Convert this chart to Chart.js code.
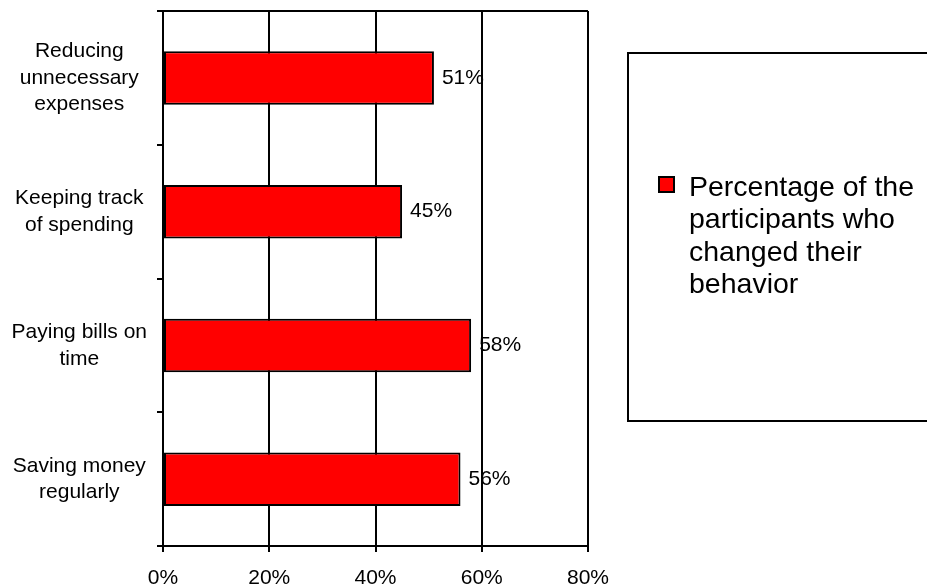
<!DOCTYPE html>
<html>
<head>
<meta charset="utf-8">
<title>Mudança de comportamento</title>
<script src="https://cdn.jsdelivr.net/npm/chart.js@4/dist/chart.umd.min.js"></script>
<style>
    body { margin: 0; background: #fff; }
    #grafico { display: block; }
</style>
</head>
<body>
<canvas id="grafico" width="927" height="586"></canvas>
<script>
// Dados do gráfico
var categorias = [
    ['Reducing', 'unnecessary', 'expenses'],
    ['Keeping track', 'of spending'],
    ['Paying bills on', 'time'],
    ['Saving money', 'regularly']
];
var valores = [51, 45, 58, 56];
var marcasEixo = [0, 20, 40, 60, 80];
var legendaLinhas = ['Percentage of the', 'participants who', 'changed their', 'behavior'];

var fonte = '"Liberation Sans", Arial, sans-serif';

// Plugin para escrever o valor ao lado de cada barra
var rotulosValores = {
    id: 'rotulosValores',
    afterDatasetsDraw: function (chart) {
        var ctx = chart.ctx;
        var meta = chart.getDatasetMeta(0);
        ctx.save();
        ctx.font = '21px ' + fonte;
        ctx.fillStyle = '#000';
        ctx.textAlign = 'left';
        ctx.textBaseline = 'middle';
        meta.data.forEach(function (barra, i) {
            ctx.fillText(valores[i] + '%', barra.x + 8, barra.y);
        });
        ctx.restore();
    }
};

// Plugin para a caixa de legenda à direita (texto em várias linhas)
var caixaLegenda = {
    id: 'caixaLegenda',
    afterDraw: function (chart) {
        var ctx = chart.ctx;
        var ds = chart.data.datasets[0];
        ctx.save();
        ctx.lineWidth = 2;
        ctx.strokeStyle = '#000';
        ctx.strokeRect(628, 53, 320, 368);

        ctx.fillStyle = ds.backgroundColor;
        ctx.fillRect(659, 177, 15, 15);
        ctx.lineWidth = 2;
        ctx.strokeRect(659, 177, 15, 15);

        ctx.fillStyle = '#000';
        ctx.font = '28.5px ' + fonte;
        ctx.textAlign = 'left';
        ctx.textBaseline = 'alphabetic';
        legendaLinhas.forEach(function (linha, i) {
            ctx.fillText(linha, 689, 196 + i * 32.3);
        });
        ctx.restore();
    }
};

var ctx = document.getElementById('grafico').getContext('2d');

window.meuGrafico = new Chart(ctx, {
    type: 'bar',
    data: {
        labels: categorias,
        datasets: [{
            label: legendaLinhas.join(' '),
            data: valores,
            backgroundColor: '#ff0000',
            borderColor: '#000',
            borderWidth: 2,
            borderSkipped: false,
            barPercentage: 0.4,
            categoryPercentage: 1
        }]
    },
    options: {
        indexAxis: 'y',
        responsive: false,
        animation: false,
        layout: {
            padding: { top: 11, right: 339, left: 0, bottom: 0 }
        },
        plugins: {
            legend: { display: false },
            tooltip: { enabled: false }
        },
        scales: {
            x: {
                min: 0,
                max: 80,
                afterBuildTicks: function (escala) {
                    escala.ticks = marcasEixo.map(function (v) { return { value: v }; });
                },
                afterFit: function (escala) {
                    escala.height = 40;
                    escala.paddingLeft = 0;
                    escala.paddingRight = 0;
                },
                ticks: {
                    callback: function (v) { return v + '%'; },
                    color: '#000',
                    padding: 14,
                    maxRotation: 0,
                    font: { family: fonte, size: 21 }
                },
                grid: {
                    color: '#000',
                    lineWidth: 2,
                    tickLength: 6
                },
                border: { color: '#000', width: 2 }
            },
            y: {
                afterFit: function (escala) {
                    escala.width = 163;
                    // sem folga extra por causa dos rótulos de três linhas
                    escala.paddingTop = 0;
                    escala.paddingBottom = 0;
                },
                ticks: {
                    color: '#000',
                    padding: 10,
                    crossAlign: 'center',
                    font: { family: fonte, size: 21, lineHeight: 1.27 }
                },
                grid: {
                    offset: true,
                    drawOnChartArea: true,
                    // só a linha do topo atravessa a área do gráfico
                    color: function (c) {
                        return c.index === 0 ? '#000' : 'rgba(0,0,0,0)';
                    },
                    tickColor: '#000',
                    lineWidth: 2,
                    tickLength: 6
                },
                border: { color: '#000', width: 2 }
            }
        }
    },
    plugins: [rotulosValores, caixaLegenda]
});
</script>
</body>
</html>
